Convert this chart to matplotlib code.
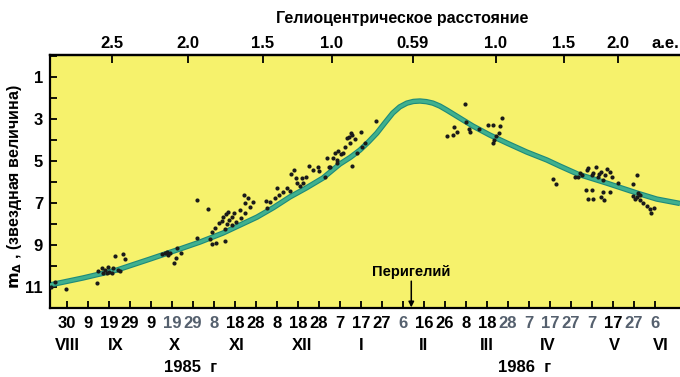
import matplotlib
matplotlib.use('Agg')
import matplotlib.pyplot as plt
import matplotlib.transforms as mtransforms

plt.rcParams['font.family'] = ['Liberation Sans', 'DejaVu Sans']
plt.rcParams['font.weight'] = 'bold'

# time axis: days counted from 30 Aug 1985
tick_days = list(range(0, 281, 10))
tick_labels = ['30', '9', '19', '29', '9', '19', '29', '8', '18', '28', '8', '18', '28',
               '7', '17', '27', '6', '16', '26', '8', '18', '28', '7', '17', '27',
               '7', '17', '27', '6']
faded_ticks = [5, 6, 7, 16, 21, 22, 23, 24, 25, 27, 28]

months = ['VIII', 'IX', 'X', 'XI', 'XII', 'I', 'II', 'III', 'IV', 'V', 'VI']
month_days = [0, 23, 51, 81, 112, 140, 170, 200, 229, 261, 283]
years = ['1985  г', '1986  г']
year_days = [59, 218]

# heliocentric distance (a.u.) on the upper axis
dist_labels = ['2.5', '2.0', '1.5', '1.0', '0.59', '1.0', '1.5', '2.0']
dist_days = [21.4, 57.6, 93.3, 126.2, 164.8, 204.3, 236.7, 262.4]
perihelion_day = 164

# fitted light curve
curve_day = [-8.1, 7.6, 23.8, 39.5, 55.2, 63.3, 74.3, 90.5, 98.3, 106.2, 114.0,
             121.9, 130.0, 135.0, 139.5, 143.5, 147.6, 151.5, 155.2, 158.5, 161.9,
             165.0, 168.1, 171.2, 174.3, 177.6, 180.9, 184.0, 187.1, 193.3, 201.4,
             209.5, 219.0, 228.6, 234.8, 243.3, 257.1, 271.4, 280.9, 292.0]
curve_mag = [10.90, 10.57, 10.19, 9.67, 9.14, 8.86, 8.43, 7.67, 7.22, 6.71, 6.28,
             5.81, 5.14, 4.82, 4.48, 4.10, 3.67, 3.17, 2.71, 2.42, 2.24,
             2.16, 2.14, 2.17, 2.24, 2.38, 2.57, 2.76, 2.95, 3.33, 3.76,
             4.14, 4.57, 4.95, 5.24, 5.62, 6.05, 6.52, 6.81, 7.02]

# individual magnitude estimates
obs_day = [-7.8, -5.7, -0.6, 14.1, 14.9, 16.5, 18.1, 17.3, 19.7, 20.1, 22.0, 22.9,
           24.4, 25.2, 26.5, 27.6, 21.3, 18.9,
           45.1, 46.7, 47.5, 48.2, 49.0, 52.2, 51.9, 51.0, 54.1, 62.0,
           61.8, 67.1, 68.9, 71.0, 75.2, 68.9, 70.5, 72.5, 73.7, 75.7, 76.0, 77.3,
           78.4, 78.4, 79.7, 80.5, 82.4, 82.7, 84.4, 86.3, 84.8, 87.1, 88.7, 84.8,
           68.1, 74.4, 76.8, 75.2,
           95.1, 94.8, 96.7, 99.0, 100.1, 101.1, 103.0, 104.6, 106.2, 106.7, 108.1,
           109.0, 109.4, 111.0, 111.8, 112.5, 113.8, 115.4, 117.0, 119.4, 120.1,
           122.9, 124.0, 124.9, 126.5, 127.6, 128.4, 125.2, 129.2, 130.3, 131.3,
           132.4, 128.7, 133.2, 134.4, 135.1, 136.0, 137.1, 134.8, 140.0, 140.3,
           141.9, 138.2, 135.6, 147.1,
           189.5, 180.8, 184.0, 184.3, 185.9, 190.3, 191.6, 191.9, 196.2, 200.6,
           203.0, 206.2, 207.0, 205.9, 204.3, 202.7, 203.3,
           231.3, 232.9, 243.5, 244.3, 247.5, 248.2, 250.6, 252.2, 253.5, 254.6,
           256.2, 255.4, 257.0, 258.6, 259.7, 262.5, 247.1, 249.9, 248.2, 250.6,
           255.4, 258.6, 254.3, 255.7, 249.9, 253.0, 271.6, 269.4, 272.0, 270.5,
           272.9, 274.4, 276.3, 277.6, 278.4, 279.7, 271.3, 241.9, 245.2, 269.5,
           272.9]
obs_mag = [10.99, 10.76, 11.11, 10.82, 10.24, 10.08, 10.19, 10.35, 10.03, 10.27, 10.11,
           9.52, 10.19, 10.24, 9.44, 9.68, 10.35, 10.32,
           9.44, 9.40, 9.32, 9.48, 9.37, 9.16, 9.63, 9.87, 9.37, 8.68,
           6.86, 7.29, 8.97, 8.92, 8.80, 8.37, 8.20, 7.97, 7.84, 7.52, 8.00, 7.81,
           7.65, 8.05, 7.49, 7.89, 7.33, 7.73, 6.62, 6.78, 7.01, 7.18, 6.94, 7.49,
           8.73, 7.65, 7.41, 8.25,
           7.25, 6.89, 6.94, 6.78, 6.30, 6.62, 6.46, 6.30, 6.41, 5.62, 5.43,
           5.82, 6.06, 6.19, 5.82, 6.06, 5.75, 5.24, 5.43, 5.27, 5.46,
           5.75, 4.87, 5.30, 4.87, 4.60, 5.11, 5.27, 4.51, 4.68, 4.63,
           4.32, 4.95, 3.92, 3.84, 3.68, 3.76, 3.97, 4.16, 3.63, 4.32,
           4.13, 4.63, 5.24, 3.08,
           2.29, 3.80, 3.76, 3.40, 3.60, 3.13, 3.49, 3.60, 3.48, 3.29,
           3.29, 3.32, 2.97, 3.68, 3.80, 4.16, 4.00,
           5.87, 6.11, 5.75, 5.59, 5.43, 5.35, 5.59, 5.27, 5.62, 5.51,
           5.67, 5.90, 5.40, 5.51, 5.78, 6.06, 6.38, 6.38, 6.82, 6.82,
           6.46, 6.46, 6.70, 6.86, 5.67, 5.75, 5.67, 6.11, 6.54, 6.82,
           6.86, 7.01, 7.14, 7.30, 7.46, 7.25, 6.70, 5.76, 5.67, 6.67,
           6.62]

fig = plt.figure(figsize=(6.8, 3.77), dpi=100)
ax = fig.add_axes([0.0735, 0.183, 0.9265, 0.671])
ax.set_facecolor('#f6f26c')

ax.plot(curve_day, curve_mag, color='#1e8a7a', lw=3.9, solid_capstyle='butt',
        solid_joinstyle='round', zorder=2)
ax.plot(curve_day, curve_mag, color='#3fb08e', lw=2.3, solid_capstyle='butt',
        solid_joinstyle='round', zorder=3)
ax.plot(obs_day, obs_mag, 'o', ms=3.0, color='#1a1a1a', mec='none', zorder=4)

ax.set_xlim(-8.1, 292)
ax.set_ylim(12.0, -0.05)

for side in ['left', 'bottom', 'top']:
    ax.spines[side].set_linewidth(1.6)
ax.spines['right'].set_visible(False)

ax.set_xticks(tick_days)
ax.set_xticklabels(tick_labels, fontsize=12, fontweight='bold')
for i, lab in enumerate(ax.get_xticklabels()):
    if i in faded_ticks:
        lab.set_color('#55606e')
ax.tick_params(axis='x', direction='in', length=5, width=1.3, pad=6)

ax.set_yticks([1, 3, 5, 7, 9, 11])
ax.set_yticks(range(0, 12), minor=True)
ax.set_yticklabels(['1', '3', '5', '7', '9', '11'], fontsize=12, fontweight='bold')
ax.tick_params(axis='y', which='both', direction='in', length=5, width=1.3, pad=5)

top = ax.secondary_xaxis('top')
top.set_xticks(dist_days)
top.set_xticklabels(dist_labels, fontsize=12, fontweight='bold')
top.tick_params(direction='in', length=6, width=1.3, pad=3)
top.spines['top'].set_linewidth(1.6)

fig.text(402 / 680, 1 - 19 / 377, 'Гелиоцентрическое расстояние',
         ha='center', va='center', fontsize=11.5, fontweight='bold')
fig.text(665 / 680, 1 - 43 / 377, 'а.е.', ha='center', va='center',
         fontsize=12, fontweight='bold')

fig.text(15 / 680, 1 - 187 / 377, r'$\mathbf{m_{\Delta}}$ , (звездная величина)',
         rotation=90, ha='center', va='center', fontsize=11.5, fontweight='bold')

trans = mtransforms.blended_transform_factory(ax.transData, fig.transFigure)
for name, d in zip(months, month_days):
    ax.text(d, 1 - 345 / 377, name, transform=trans, ha='center', va='center',
            fontsize=12, fontweight='bold', clip_on=False)
for name, d in zip(years, year_days):
    ax.text(d, 1 - 368 / 377, name, transform=trans, ha='center', va='center',
            fontsize=12, fontweight='bold', clip_on=False)

ax.text(perihelion_day, 10.29, 'Перигелий', ha='center', va='center',
        fontsize=10.5, fontweight='bold')
ax.annotate('', xy=(perihelion_day, 11.97), xytext=(perihelion_day, 10.72),
            arrowprops=dict(arrowstyle='-|>', color='k', lw=1.1, mutation_scale=8,
                            shrinkA=0, shrinkB=0))

fig.savefig('out.png', dpi=100)
